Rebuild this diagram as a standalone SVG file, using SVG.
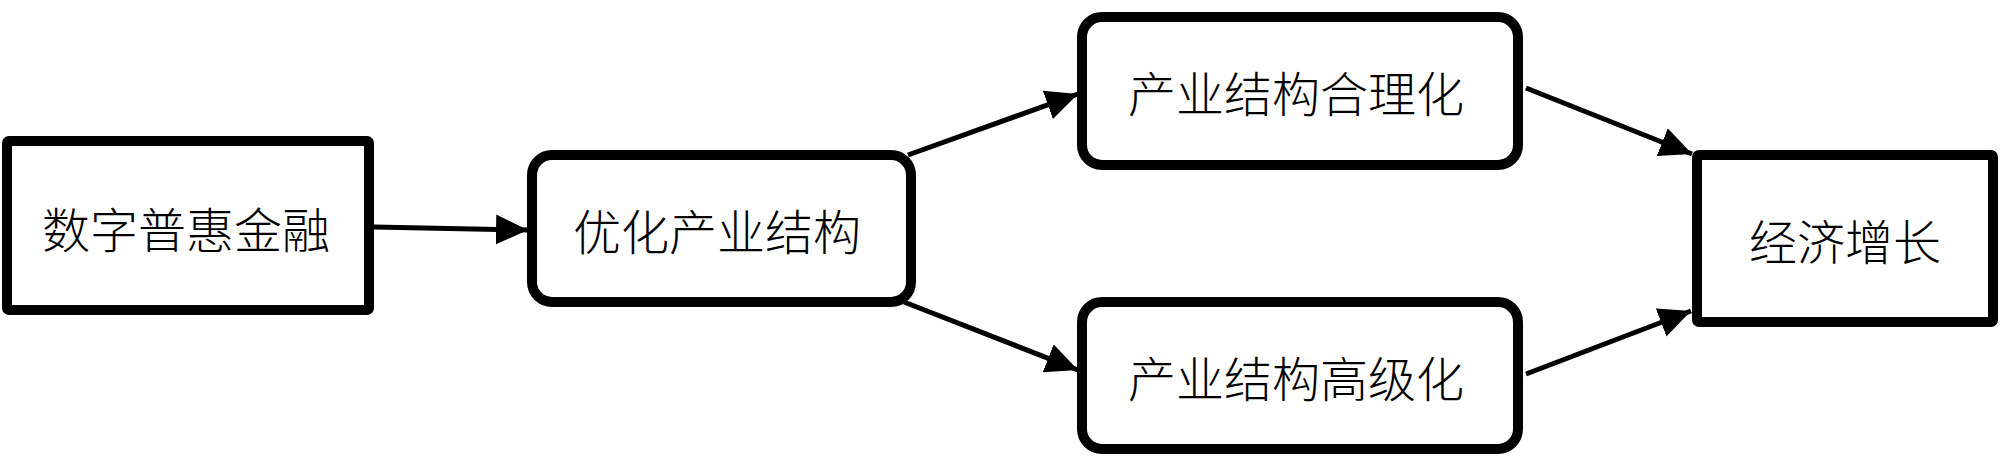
<svg xmlns="http://www.w3.org/2000/svg" width="2000" height="457" viewBox="0 0 2000 457">
<defs>
<style>
.box{fill:#fff;stroke:#000;stroke-width:10}
.lbl{font-family:"Noto Sans CJK SC","Noto Sans",sans-serif;font-size:48px;font-weight:300;fill:#000;text-anchor:middle;dominant-baseline:central}
.edge{stroke:#000;stroke-width:5;fill:none;marker-end:url(#ah)}
</style>
<marker id="ah" markerUnits="userSpaceOnUse" markerWidth="34" markerHeight="32" refX="32" refY="15" orient="auto">
<path d="M0,0 L32,15 L0,30 Z" fill="#000"/>
</marker>
</defs>
<rect width="2000" height="457" fill="#fff"/>
<g id="connectors">
<line class="edge" x1="374" y1="227" x2="528" y2="230"/>
<line class="edge" x1="908" y1="155" x2="1078" y2="94"/>
<line class="edge" x1="904" y1="302" x2="1078" y2="370"/>
<line class="edge" x1="1526" y1="88" x2="1692" y2="154"/>
<line class="edge" x1="1526" y1="374" x2="1691" y2="311"/>
</g>
<g id="n1"><rect class="box" x="7" y="141" width="362" height="169" rx="2"/><text class="lbl" x="186" y="227">数字普惠金融</text></g>
<g id="n2"><rect class="box" x="532" y="155" width="379" height="147" rx="20"/><text class="lbl" x="717" y="229">优化产业结构</text></g>
<g id="n3"><rect class="box" x="1082" y="17" width="436" height="148" rx="20"/><text class="lbl" x="1296" y="91">产业结构合理化</text></g>
<g id="n4"><rect class="box" x="1082" y="302" width="436" height="147" rx="20"/><text class="lbl" x="1296" y="376">产业结构高级化</text></g>
<g id="n5"><rect class="box" x="1697" y="155" width="296" height="167" rx="2"/><text class="lbl" x="1845" y="239">经济增长</text></g>
</svg>
